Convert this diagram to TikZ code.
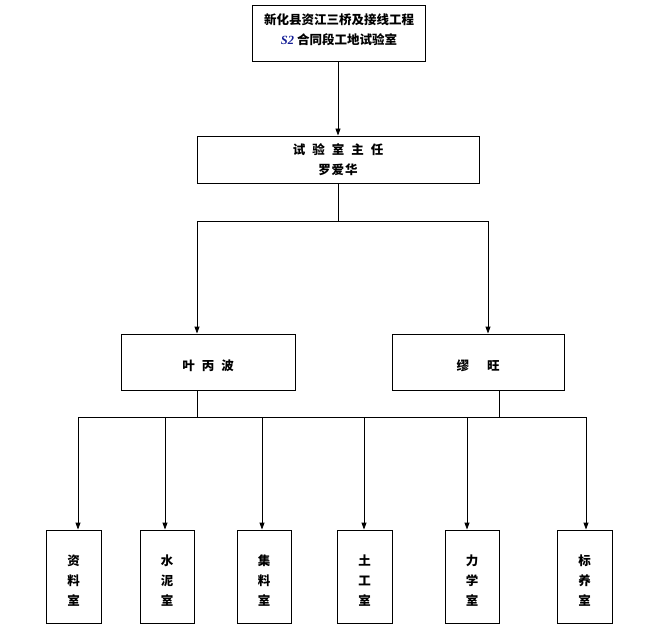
\documentclass[tikz,border=0pt]{standalone}
\usepackage{fontspec}
\newfontfamily\cjk{Noto Sans CJK SC}
\newfontfamily\latinser{Liberation Serif}
\usetikzlibrary{arrows.meta}
\definecolor{sblue}{RGB}{20,30,150}
\newcommand\gp{\hspace{7pt}}
\newcommand\dn{\rule{0pt}{19pt}}
\tikzset{
  box/.style={draw, line width=0.9pt, inner sep=0pt},
  txt/.style={font=\cjk\bfseries\fontsize{12.5}{20}\selectfont, align=center, inner sep=0pt},
  conn/.style={line width=0.9pt},
  arr/.style={conn, -{Triangle[width=5pt,length=7pt]}}
}
\begin{document}
\begin{tikzpicture}[x=1pt,y=-1pt]
\useasboundingbox (0,0) rectangle (657,634);
% boxes
\node[box, minimum width=173pt, minimum height=56pt] (top) at (339,33) {};
\node[txt] (toptxt) at (339,29.5) {新化县资江三桥及接线工程\\{\latinser\bfseries\itshape\color{sblue}S2} 合同段工地试验室};
\node[box, txt, minimum width=282pt, minimum height=47pt] (sec) at (338,159.5) {试\gp 验\gp 室\gp 主\gp 任\\罗\hspace{1pt}爱\hspace{1pt}华};
\node[box, txt, minimum width=174pt, minimum height=56pt] (midL) at (208,362) {\dn 叶\gp 丙\gp 波};
\node[box, txt, minimum width=172pt, minimum height=56pt] (midR) at (478,362) {\dn 缪\hspace{18pt}旺};
\node[box, txt, minimum width=55pt, minimum height=93pt] (b1) at (73.5,576.5) {\dn 资\\料\\室};
\node[box, txt, minimum width=54pt, minimum height=93pt] (b2) at (167,576.5) {\dn 水\\泥\\室};
\node[box, txt, minimum width=54pt, minimum height=93pt] (b3) at (264,576.5) {\dn 集\\料\\室};
\node[box, txt, minimum width=55pt, minimum height=93pt] (b4) at (364.5,576.5) {\dn 土\\工\\室};
\node[box, txt, minimum width=54pt, minimum height=93pt] (b5) at (472,576.5) {\dn 力\\学\\室};
\node[box, txt, minimum width=55pt, minimum height=93pt] (b6) at (584.5,576.5) {\dn 标\\养\\室};
% junctions
\coordinate (jc) at (338,221);
\coordinate (jl) at (197,221);
\coordinate (jr) at (488,221);
\coordinate (sl) at (197,417);
\coordinate (sr) at (499,417);
\coordinate (d1) at (78,417);
\coordinate (d2) at (165,417);
\coordinate (d3) at (262,417);
\coordinate (d4) at (364,417);
\coordinate (d5) at (467,417);
\coordinate (d6) at (586,417);
% connectors
\draw[arr] (top.south -| sec.north) -- (sec.north);
\draw[conn] (sec.south) -- (jc);
\draw[conn] (jl) -- (jr);
\draw[arr] (jl) -- (jl |- midL.north);
\draw[arr] (jr) -- (jr |- midR.north);
\draw[conn] (sl |- midL.south) -- (sl);
\draw[conn] (sr |- midR.south) -- (sr);
\draw[conn] (d1) -- (d6);
\draw[arr] (d1) -- (d1 |- b1.north);
\draw[arr] (d2) -- (d2 |- b2.north);
\draw[arr] (d3) -- (d3 |- b3.north);
\draw[arr] (d4) -- (d4 |- b4.north);
\draw[arr] (d5) -- (d5 |- b5.north);
\draw[arr] (d6) -- (d6 |- b6.north);
\end{tikzpicture}
\end{document}
